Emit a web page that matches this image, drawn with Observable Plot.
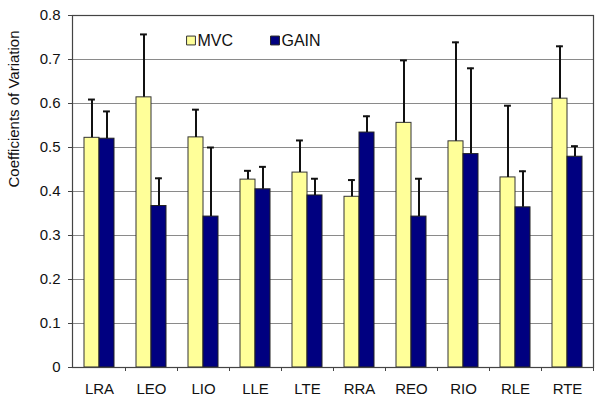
<!DOCTYPE html>
<html>
<head>
<meta charset="utf-8">
<script src="https://cdn.jsdelivr.net/npm/d3@7"></script>
<script src="https://cdn.jsdelivr.net/npm/@observablehq/plot@0.6"></script>
<style>
  html, body { margin: 0; padding: 0; background: #fff; }
  #chart svg { display: block; }
</style>
</head>
<body>
<div id="chart"></div>
<script>
const categories = ["LRA","LEO","LIO","LLE","LTE","RRA","REO","RIO","RLE","RTE"];
const series = ["MVC", "GAIN"];
const mvc      = [0.522, 0.614, 0.523, 0.427, 0.443, 0.388, 0.556, 0.514, 0.432, 0.611];
const mvcUpper = [0.609, 0.757, 0.586, 0.447, 0.516, 0.426, 0.698, 0.739, 0.595, 0.730];
const gain      = [0.520, 0.367, 0.343, 0.405, 0.391, 0.534, 0.343, 0.485, 0.364, 0.479];
const gainUpper = [0.582, 0.430, 0.500, 0.456, 0.429, 0.571, 0.429, 0.680, 0.446, 0.503];
const yTicks = [0, 0.1, 0.2, 0.3, 0.4, 0.5, 0.6, 0.7, 0.8];
const yTitle = "Coefficients of Variation";

const colors = {MVC: "#FFFF99", GAIN: "#000080"};

const mvcData = categories.map((c, i) => ({cat: c, v: mvc[i], up: mvcUpper[i]}));
const gainData = categories.map((c, i) => ({cat: c, v: gain[i], up: gainUpper[i]}));

const font = "'Liberation Sans', Arial, sans-serif";

const plot = Plot.plot({
  width: 601,
  height: 402,
  marginLeft: 72,
  marginRight: 8,
  marginTop: 15,
  marginBottom: 35,
  style: {fontFamily: font, fontSize: "15px", color: "#111", background: "#fff"},
  x: {domain: categories, padding: 0, label: null},
  y: {domain: [0, 0.8], label: null},
  marks: [
    Plot.gridY(yTicks, {stroke: "#8a8a8a", strokeOpacity: 1, strokeWidth: 1}),
    Plot.barY(mvcData, {x: "cat", y: "v", fill: colors.MVC, stroke: "#333", strokeWidth: 1, insetLeft: 11, insetRight: 26}),
    Plot.barY(gainData, {x: "cat", y: "v", fill: colors.GAIN, stroke: "#222", strokeWidth: 1, insetLeft: 26, insetRight: 11}),
    Plot.ruleX(mvcData, {x: "cat", y1: "v", y2: "up", dx: -7.5, stroke: "#111", strokeWidth: 2}),
    Plot.ruleX(gainData, {x: "cat", y1: "v", y2: "up", dx: 7.5, stroke: "#111", strokeWidth: 2}),
    Plot.tickY(mvcData, {x: "cat", y: "up", insetLeft: 15, insetRight: 30.1, stroke: "#111", strokeWidth: 2}),
    Plot.tickY(gainData, {x: "cat", y: "up", insetLeft: 30, insetRight: 15.1, stroke: "#111", strokeWidth: 2}),
    Plot.frame({stroke: "#444", strokeWidth: 1.2}),
    Plot.axisY(yTicks, {tickSize: 4, tickPadding: 8, tickFormat: d => d === 0 ? "0" : d.toFixed(1), label: null, fontSize: 15, stroke: "#444"}),
    Plot.axisX({tickSize: 0, tickPadding: 16, label: null, fontSize: 15}),
    Plot.axisX({tickSize: 4, tickFormat: null, label: null, dx: 26, stroke: "#444"}),
    Plot.text([yTitle], {frameAnchor: "left", dx: -58, dy: -4, rotate: -90, fontSize: 15, fill: "#111"}),
    Plot.dot([series[0]], {frameAnchor: "top-left", dx: 118.5, dy: 25, symbol: "square", r: 5, fill: colors.MVC, stroke: "#333", strokeWidth: 1}),
    Plot.text([series[0]], {frameAnchor: "top-left", dx: 125, dy: 25, textAnchor: "start", lineAnchor: "middle", fontSize: 16, fill: "#111"}),
    Plot.dot([series[1]], {frameAnchor: "top-left", dx: 202.5, dy: 25, symbol: "square", r: 5, fill: colors.GAIN, stroke: "#222", strokeWidth: 1}),
    Plot.text([series[1]], {frameAnchor: "top-left", dx: 209, dy: 25, textAnchor: "start", lineAnchor: "middle", fontSize: 16, fill: "#111"})
  ]
});
document.getElementById("chart").appendChild(plot);
</script>
</body>
</html>
